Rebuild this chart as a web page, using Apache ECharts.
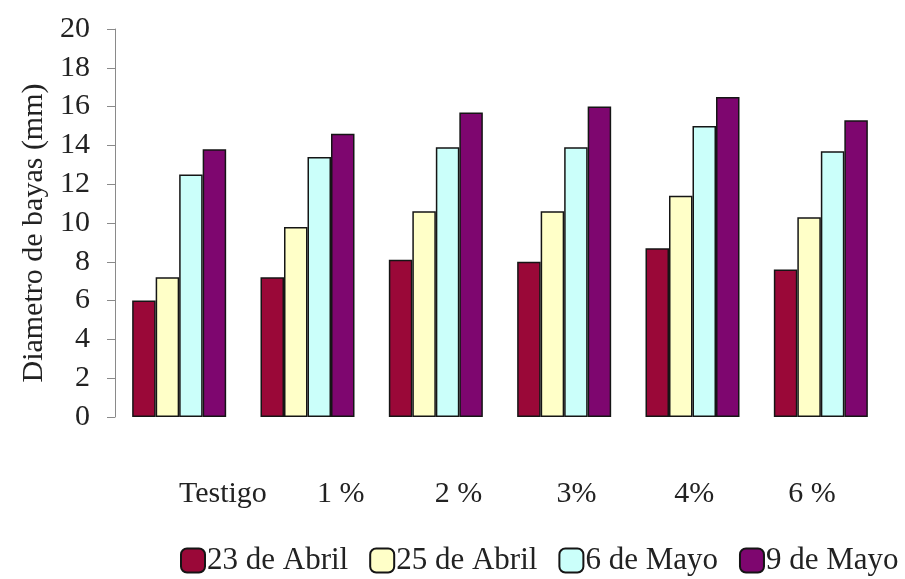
<!DOCTYPE html>
<html><head><meta charset="utf-8">
<script src="https://cdn.jsdelivr.net/npm/echarts@6/dist/echarts.min.js"></script>
<style>html,body{margin:0;padding:0;background:#fff}#c{width:905px;height:579px}</style>
</head><body><div id="c"></div>
<script>
var categories = ['Testigo', '1 %', '2 %', '3%', '4%', '6 %'];
var seriesNames = ['23 de Abril', '25 de Abril', '6 de Mayo', '9 de Mayo'];
var abril23 = [6.0, 7.2, 8.1, 8.0, 8.7, 7.6];
var abril25 = [7.2, 9.8, 10.6, 10.6, 11.4, 10.3];
var mayo6 = [12.5, 13.4, 13.9, 13.9, 15.0, 13.7];
var mayo9 = [13.8, 14.6, 15.7, 16.0, 16.5, 15.3];
var yTitle = 'Diametro de bayas (mm)';

var colors = ['#9a0838', '#ffffc8', '#cbfffa', '#7e066f'];
var font = 'Liberation Serif, Times New Roman, serif';
var chart = echarts.init(document.getElementById('c'), null, {renderer: 'canvas'});
var vals = [abril23, abril25, mayo6, mayo9];
var series = seriesNames.map(function (n, i) {
  return {
    name: n, type: 'bar', xAxisIndex: 0, yAxisIndex: 0,
    data: vals[i], barWidth: 23.5, barGap: '0%',
    itemStyle: {color: colors[i], borderColor: '#151515', borderWidth: 1.5}
  };
});
chart.setOption({
  animation: false,
  backgroundColor: '#fff',
  textStyle: {fontFamily: font},
  legend: {
    data: seriesNames, left: 175, top: 540, itemWidth: 24, itemHeight: 24, itemGap: 21,
    icon: 'roundRect',
    textStyle: {fontFamily: font, fontSize: 31, color: '#222', padding: [0, 0, 0, -3]}
  },
  grid: [
    {left: 115, right: 20, top: 29, bottom: 162},
    {left: 164, right: 34, top: 29, bottom: 162}
  ],
  xAxis: [
    {type: 'category', gridIndex: 0, data: categories, axisLine: {show: false},
     axisTick: {show: false}, axisLabel: {show: false}},
    {type: 'category', gridIndex: 1, data: categories, axisLine: {show: false},
     axisTick: {show: false},
     axisLabel: {margin: 62, fontFamily: font, fontSize: 30, color: '#222', lineHeight: 30}}
  ],
  yAxis: [
    {type: 'value', gridIndex: 0, min: 0, max: 20, interval: 2,
     name: yTitle, nameLocation: 'middle', nameGap: 61,
     nameTextStyle: {fontFamily: font, fontSize: 30, color: '#222', padding: [0, 20, 0, 0]},
     axisLine: {show: true, lineStyle: {color: '#8a8a8a', width: 1}},
     axisTick: {show: true, length: 8, lineStyle: {color: '#8a8a8a'}},
     splitLine: {show: false},
     axisLabel: {margin: 25, fontFamily: font, fontSize: 30, color: '#222'}},
    {type: 'value', gridIndex: 1, min: 0, max: 20, show: false}
  ],
  series: series
});
</script></body></html>
